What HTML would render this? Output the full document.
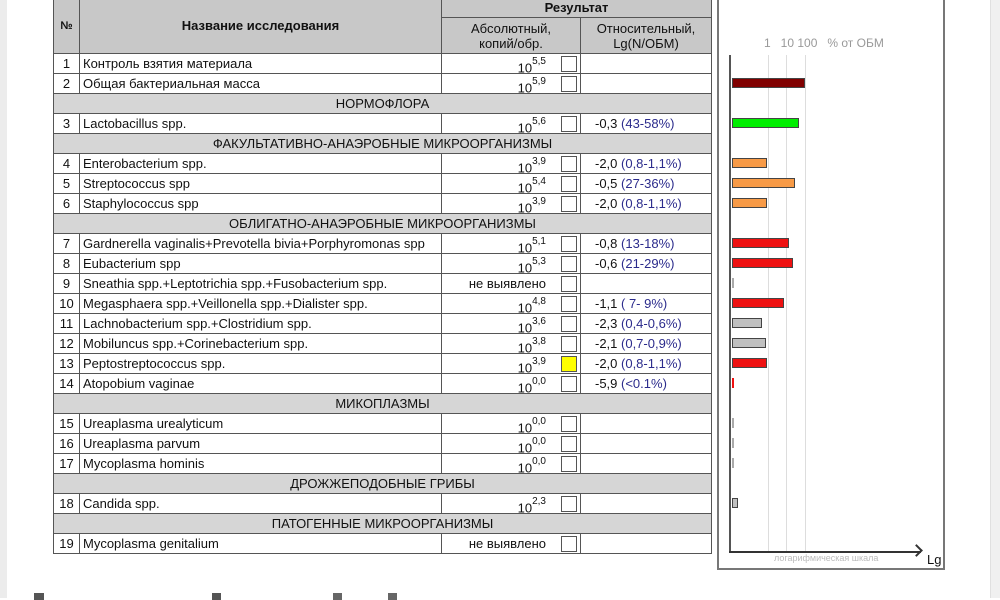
<!DOCTYPE html>
<html><head><meta charset="utf-8"><style>
body{margin:0;width:1000px;height:598px;overflow:hidden;background:#fff;position:relative;font-family:"Liberation Sans","DejaVu Sans",sans-serif;color:#111}
.a{position:absolute}
.lstrip{left:0;top:0;width:7px;height:598px;background:#ececec}
.rstrip{left:990px;top:0;width:10px;height:598px;background:#f0f0f0;border-left:1px solid #e0e0e0}
.c{position:absolute;border:1px solid #555;box-sizing:border-box;font-size:13px;white-space:nowrap;overflow:hidden}
.g{background:#c8c8c8}
.sec{background:#d6d6d6;text-align:center;line-height:19px}
.n{text-align:center;line-height:19px}
.nm{padding-left:3px;line-height:19px}
.ab{text-align:right;padding-right:34px;line-height:21px}
.ab sup{font-size:10px;position:relative;top:-3px}
.rl{padding-left:14px;line-height:19px}
.rl b{font-weight:normal;color:#2b2b8c}
.box{position:absolute;width:14px;height:14px;border:1px solid #555;background:#fff}
.bar{position:absolute;height:10px;border:1px solid #444;box-sizing:border-box}
.grid{position:absolute;top:55px;width:1px;height:497px;background:#ddd}
</style></head><body>
<div class="a lstrip"></div><div class="a rstrip"></div>

<div class="c g" style="left:53px;top:-2px;width:27px;height:56px;text-align:center;line-height:54px;font-weight:bold;font-size:11px">№</div>
<div class="c g" style="left:79px;top:-2px;width:363px;height:56px;text-align:center;line-height:54px;font-weight:bold">Название исследования</div>
<div class="c g" style="left:441px;top:-2px;width:271px;height:20px;text-align:center;line-height:18px;font-weight:bold">Результат</div>
<div class="c g" style="left:441px;top:17px;width:140px;height:37px;text-align:center;line-height:15px;padding-top:3px">Абсолютный,<br>копий/обр.</div>
<div class="c g" style="left:580px;top:17px;width:132px;height:37px;text-align:center;line-height:15px;padding-top:3px">Относительный,<br>Lg(N/ОБМ)</div>

<div id="rows"></div>

<div class="a" style="left:717px;top:-2px;width:228px;height:572px;border:2px solid #777;box-sizing:border-box;border-top:none"></div>
<div class="a" style="left:764px;top:36px;font-size:12px;color:#999;white-space:nowrap">1&nbsp;&nbsp; 10&nbsp;100&nbsp;&nbsp; % от ОБМ</div>
<div class="grid" style="left:768px"></div><div class="grid" style="left:786px"></div><div class="grid" style="left:805px"></div>
<div class="a" style="left:729px;top:55px;width:2px;height:498px;background:#555"></div>
<div class="a" style="left:729px;top:551px;width:192px;height:2px;background:#333"></div>
<div class="a" style="left:912px;top:546px;width:7px;height:7px;border-top:2px solid #333;border-right:2px solid #333;transform:rotate(45deg)"></div>
<div class="a" style="left:774px;top:553px;font-size:9px;color:#bbb">логарифмическая шкала</div>
<div class="a" style="left:927px;top:552px;font-size:13px">Lg</div>
<div id="bars"></div>

<div class="a" style="left:34px;top:593px;width:10px;height:7px;background:#555"></div>
<div class="a" style="left:212px;top:593px;width:9px;height:7px;background:#555"></div>
<div class="a" style="left:333px;top:593px;width:9px;height:7px;background:#666"></div>
<div class="a" style="left:388px;top:593px;width:9px;height:7px;background:#666"></div>

<script>
var R=[
["r","1","Контроль взятия материала","5,5",""],
["r","2","Общая бактериальная масса","5,9",""],
["s","НОРМОФЛОРА"],
["r","3","Lactobacillus spp.","5,6","-0,3 <b>(43-58%)</b>"],
["s","ФАКУЛЬТАТИВНО-АНАЭРОБНЫЕ МИКРООРГАНИЗМЫ"],
["r","4","Enterobacterium spp.","3,9","-2,0 <b>(0,8-1,1%)</b>"],
["r","5","Streptococcus spp","5,4","-0,5 <b>(27-36%)</b>"],
["r","6","Staphylococcus spp","3,9","-2,0 <b>(0,8-1,1%)</b>"],
["s","ОБЛИГАТНО-АНАЭРОБНЫЕ МИКРООРГАНИЗМЫ"],
["r","7","Gardnerella vaginalis+Prevotella bivia+Porphyromonas spp","5,1","-0,8 <b>(13-18%)</b>"],
["r","8","Eubacterium spp","5,3","-0,6 <b>(21-29%)</b>"],
["r","9","Sneathia spp.+Leptotrichia spp.+Fusobacterium spp.","N",""],
["r","10","Megasphaera spp.+Veillonella spp.+Dialister spp.","4,8","-1,1 <b>( 7- 9%)</b>"],
["r","11","Lachnobacterium spp.+Clostridium spp.","3,6","-2,3 <b>(0,4-0,6%)</b>"],
["r","12","Mobiluncus spp.+Corinebacterium spp.","3,8","-2,1 <b>(0,7-0,9%)</b>"],
["r","13","Peptostreptococcus spp.","3,9","-2,0 <b>(0,8-1,1%)</b>","y"],
["r","14","Atopobium vaginae","0,0","-5,9 <b>(&lt;0.1%)</b>"],
["s","МИКОПЛАЗМЫ"],
["r","15","Ureaplasma urealyticum","0,0",""],
["r","16","Ureaplasma parvum","0,0",""],
["r","17","Mycoplasma hominis","0,0",""],
["s","ДРОЖЖЕПОДОБНЫЕ ГРИБЫ"],
["r","18","Candida spp.","2,3",""],
["s","ПАТОГЕННЫЕ МИКРООРГАНИЗМЫ"],
["r","19","Mycoplasma genitalium","N",""]];
var h="",y=53,tops=[];
R.forEach(function(r){
 if(r[0]=="s"){h+='<div class="c sec" style="left:53px;top:'+y+'px;width:659px;height:21px">'+r[1]+'</div>';tops.push(-1);}
 else{
  h+='<div class="c n" style="left:53px;top:'+y+'px;width:27px;height:21px">'+r[1]+'</div>';
  h+='<div class="c nm" style="left:79px;top:'+y+'px;width:363px;height:21px">'+r[2]+'</div>';
  var v=r[3]=="N"?'<span style="line-height:19px">не выявлено</span>':'10<sup>'+r[3]+'</sup>';
  h+='<div class="c ab" style="left:441px;top:'+y+'px;width:140px;height:21px;'+(r[3]=="N"?'line-height:19px':'')+'">'+v+'</div>';
  h+='<div class="box" style="left:561px;top:'+(y+3)+'px;'+(r[5]?'background:#ffff00':'')+'"></div>';
  h+='<div class="c rl" style="left:580px;top:'+(y)+'px;width:132px;height:21px">'+r[4]+'</div>';
  tops.push(y);
 }
 y+=20;
});
document.getElementById("rows").innerHTML=h;
var B={2:[805,"#800000"],3:[799,"#00ee00"],4:[767,"#f79a46"],5:[795,"#f79a46"],6:[767,"#f79a46"],7:[789,"#ee1111"],8:[793,"#ee1111"],9:[734,"#aaa"],10:[784,"#ee1111"],11:[762,"#c0c0c0"],12:[766,"#c0c0c0"],13:[767,"#ee1111"],14:[734,"#ee1111"],15:[734,"#aaa"],16:[734,"#aaa"],17:[734,"#aaa"],18:[738,"#c0c0c0"]};
var b="";
R.forEach(function(r,i){ if(r[0]=="r"){var n=+r[1];if(B[n]){var t=tops[i]+5;var w=B[n][0]-732;b+='<div class="bar" style="left:732px;top:'+t+'px;width:'+w+'px;background:'+B[n][1]+(w<4?';border:none;':'')+'"></div>';}}});
document.getElementById("bars").innerHTML=b;
</script>
</body></html>
